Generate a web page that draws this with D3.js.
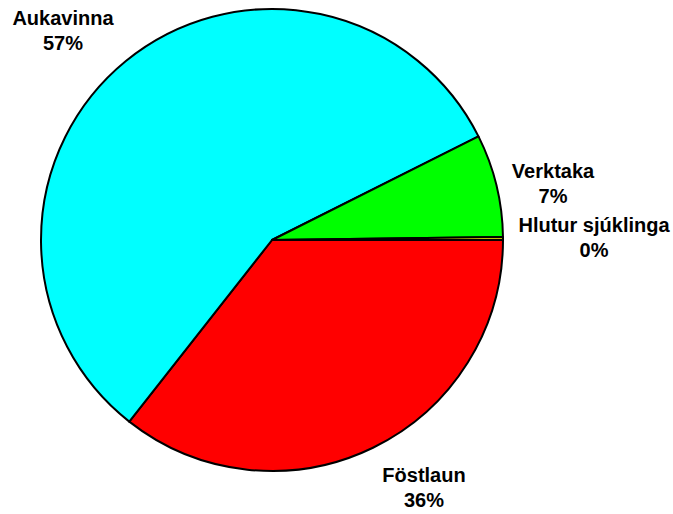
<!DOCTYPE html>
<html>
<head>
<meta charset="utf-8">
<script src="https://cdn.jsdelivr.net/npm/d3@7"></script>
<style>
  body { margin: 0; background: #fff; }
  text { font-family: "Liberation Sans", Arial, sans-serif; font-weight: bold; }
</style>
</head>
<body>
<div class="chart"></div>
<script>
const categories = ["Föstlaun", "Aukavinna", "Verktaka", "Hlutur sjúklinga"];
const values = [35.6, 57.0, 7.2, 0.2];
const colors = ["#ff0000", "#00ffff", "#00ff00", "#ffff00"];

const width = 673;
const height = 514;
const cx = 272, cy = 240, radius = 231;

// label anchors (centre x, first baseline) relative to pie centre
const labelPos = {
  "Föstlaun": [152, 242],
  "Aukavinna": [-209, -215],
  "Verktaka": [281, -62],
  "Hlutur sjúklinga": [322, -8]
};

const data = categories.map((c, i) => ({ name: c, value: values[i], color: colors[i] }));
const total = d3.sum(values);

const svg = d3.select(".chart")
  .append("svg")
  .attr("width", width)
  .attr("height", height);

const g = svg.append("g")
  .attr("transform", `translate(${cx}, ${cy})`);

const pie = d3.pie()
  .value(d => d.value)
  .sort(null)
  .startAngle(Math.PI / 2)
  .endAngle(Math.PI / 2 + 2 * Math.PI);

const arc = d3.arc().innerRadius(0).outerRadius(radius);

g.selectAll(".slice")
  .data(pie(data))
  .enter()
  .append("path")
  .attr("class", "slice")
  .attr("d", arc)
  .attr("fill", d => d.data.color)
  .attr("stroke", "#000")
  .attr("stroke-width", 2)
  .attr("stroke-linejoin", "round");

const labels = g.selectAll(".label")
  .data(data)
  .enter()
  .append("text")
  .attr("class", "label")
  .attr("text-anchor", "middle")
  .attr("font-size", 20)
  .attr("fill", "#000")
  .attr("transform", d => `translate(${labelPos[d.name][0]}, ${labelPos[d.name][1]})`);

labels.append("tspan")
  .attr("x", 0)
  .attr("y", 0)
  .text(d => d.name);

labels.append("tspan")
  .attr("x", 0)
  .attr("y", 25)
  .text(d => Math.round(d.value / total * 100) + "%");
</script>
</body>
</html>
